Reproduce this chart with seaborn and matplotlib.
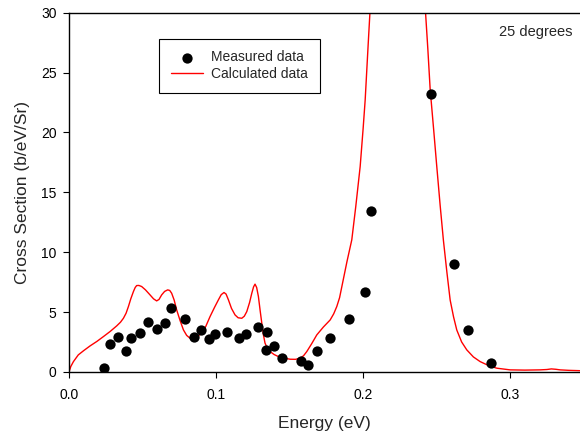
import matplotlib
matplotlib.use("Agg")
import pandas as pd
import matplotlib.pyplot as plt
import seaborn as sns

# -----------------------------
# Data
# -----------------------------
measured_energy = [0.0240, 0.0279, 0.0336, 0.0388, 0.0422, 0.0483, 0.0540, 0.0596,
                   0.0653, 0.0692, 0.0789, 0.0852, 0.0898, 0.0950, 0.0993, 0.1077,
                   0.1156, 0.1202, 0.1288, 0.1345, 0.1338, 0.1395, 0.1447, 0.1578,
                   0.1626, 0.1685, 0.1773, 0.1905, 0.2014, 0.2057, 0.2461, 0.2619,
                   0.2710, 0.2873]
measured_xs = [0.31, 2.31, 2.95, 1.75, 2.87, 3.23, 4.15, 3.57,
               4.07, 5.32, 4.40, 2.95, 3.51, 2.73, 3.15, 3.31,
               2.81, 3.17, 3.73, 3.31, 1.84, 2.15, 1.20, 0.92,
               0.61, 1.75, 2.81, 4.40, 6.66, 13.4, 23.2, 9.0,
               3.51, 0.78]

calc_energy = [0.0000, 0.0012, 0.0030, 0.0063, 0.0100, 0.0143, 0.0190, 0.0234,
               0.0280, 0.0324, 0.0350, 0.0370, 0.0388, 0.0404, 0.0420, 0.0438,
               0.0450, 0.0460, 0.0475, 0.0494, 0.0520, 0.0551, 0.0575, 0.0596,
               0.0612, 0.0630, 0.0650, 0.0671, 0.0685, 0.0698, 0.0715, 0.0732,
               0.0755, 0.0778, 0.0800, 0.0823, 0.0840, 0.0857, 0.0880, 0.0902,
               0.0930, 0.0959, 0.0990, 0.1016, 0.1035, 0.1054, 0.1068, 0.1084,
               0.1105, 0.1129, 0.1150, 0.1175, 0.1192, 0.1209, 0.1228, 0.1243,
               0.1255, 0.1265, 0.1276, 0.1288, 0.1300, 0.1311, 0.1322, 0.1333,
               0.1350, 0.1367, 0.1395, 0.1424, 0.1460, 0.1503, 0.1540, 0.1571,
               0.1595, 0.1617, 0.1650, 0.1685, 0.1730, 0.1776, 0.1800, 0.1821,
               0.1840, 0.1860, 0.1890, 0.1923, 0.1950, 0.1980, 0.2000, 0.2014,
               0.2036, 0.2060, 0.2120, 0.2180, 0.2240, 0.2300, 0.2360, 0.2400,
               0.2422, 0.2440, 0.2456, 0.2480, 0.2501, 0.2524, 0.2546, 0.2570,
               0.2592, 0.2615, 0.2637, 0.2670, 0.2705, 0.2750, 0.2796, 0.2850,
               0.2909, 0.3000, 0.3100, 0.3204, 0.3250, 0.3280, 0.3310, 0.3340,
               0.3400, 0.3480]
calc_xs = [0.00, 0.45, 0.86, 1.42, 1.78, 2.17, 2.55, 2.95,
           3.38, 3.84, 4.15, 4.48, 4.90, 5.46, 6.10, 6.71,
           7.05, 7.21, 7.22, 7.13, 6.85, 6.43, 6.10, 5.93,
           6.05, 6.43, 6.72, 6.85, 6.80, 6.57, 6.00, 5.18,
           4.30, 3.51, 3.05, 2.81, 2.78, 2.87, 3.02, 3.23,
           3.80, 4.62, 5.40, 6.02, 6.45, 6.63, 6.50, 6.02,
           5.30, 4.76, 4.52, 4.48, 4.65, 5.04, 5.80, 6.57,
           7.10, 7.33, 7.05, 6.29, 5.10, 4.07, 3.10, 2.40,
           1.95, 1.70, 1.45, 1.28, 1.16, 1.06, 1.05, 1.14,
           1.35, 1.70, 2.35, 3.09, 3.75, 4.34, 4.85, 5.46,
           6.20, 7.40, 9.20, 11.03, 13.8, 17.15, 20.3, 22.7,
           27.7, 33.0, 42.0, 48.0, 50.0, 48.0, 41.0, 34.0,
           30.5, 27.0, 23.6, 20.2, 17.15, 13.9, 11.0, 8.3,
           6.0, 4.6, 3.5, 2.5, 1.84, 1.25, 0.86, 0.55,
           0.31, 0.17, 0.15, 0.17, 0.20, 0.25, 0.22, 0.17,
           0.13, 0.10]

x_ticks = [0.0, 0.1, 0.2, 0.3]
y_ticks = [0, 5, 10, 15, 20, 25, 30]

measured = pd.DataFrame({"energy": measured_energy, "xs": measured_xs})
calculated = pd.DataFrame({"energy": calc_energy, "xs": calc_xs})

# -----------------------------
# Plot
# -----------------------------
sns.set_style("ticks")
plt.rcParams["font.family"] = ["Liberation Sans", "DejaVu Sans"]

fig = plt.figure(figsize=(5.8, 4.36), dpi=100)
ax = fig.add_axes([0.119, 0.147, 0.881, 0.824])

sns.lineplot(data=calculated, x="energy", y="xs", color="#ff0000", linewidth=1.0,
             label="Calculated data", ax=ax, zorder=2)
sns.scatterplot(data=measured, x="energy", y="xs", color="black", s=55,
                edgecolor="black", linewidth=0, label="Measured data", ax=ax, zorder=3)

ax.set_xlim(0, 0.3475)
ax.set_ylim(0, 30)
ax.set_xticks(x_ticks)
ax.set_xticklabels([f"{t:.1f}" for t in x_ticks])
ax.set_yticks(y_ticks)
ax.tick_params(direction="out", length=4, width=0.8, labelsize=10, colors="black")
ax.tick_params(axis="x", pad=7.5)
ax.tick_params(axis="y", pad=5)

for side in ["left", "bottom", "top"]:
    ax.spines[side].set_color("black")
    ax.spines[side].set_linewidth(1.0)
ax.spines["right"].set_visible(False)

ax.set_xlabel("Energy (eV)", fontsize=12.5, labelpad=10.5)
ax.set_ylabel("Cross Section (b/eV/Sr)", fontsize=12.5, labelpad=8)

ax.text(0.985, 0.965, "25 degrees", transform=ax.transAxes, ha="right", va="top",
        fontsize=10.5)

handles, labels = ax.get_legend_handles_labels()
order = [labels.index("Measured data"), labels.index("Calculated data")]
leg = ax.legend([handles[i] for i in order], [labels[i] for i in order],
                loc="upper left", bbox_to_anchor=(0.176, 0.928), fontsize=10,
                frameon=True, fancybox=False, framealpha=1, edgecolor="black",
                borderpad=0.85, handlelength=2.3, handletextpad=0.6, labelspacing=0.2,
                borderaxespad=0)
leg.get_frame().set_linewidth(0.8)

plt.savefig("out.png", dpi=100)
plt.close()
